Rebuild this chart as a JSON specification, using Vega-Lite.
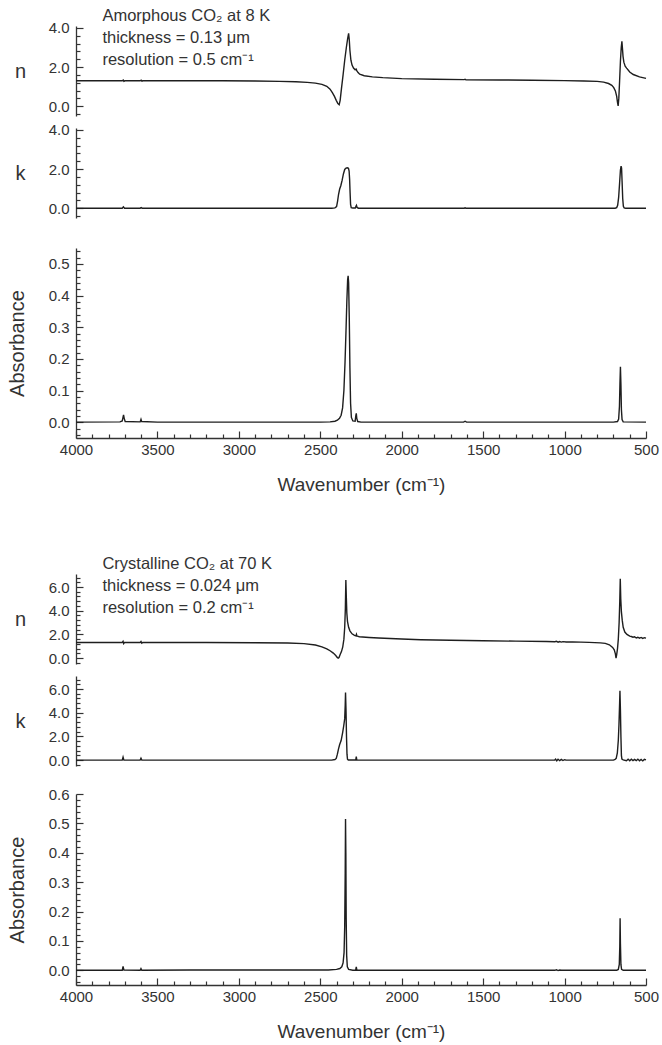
{
  "$schema": "https://vega.github.io/schema/vega-lite/v6.json",
  "padding": {"left": 7, "top": 8, "right": 8, "bottom": 4},
  "background": "white",
  "config": {
    "view": {"stroke": null},
    "font": "Liberation Sans",
    "axis": {"grid": false, "domainColor": "#333", "domainWidth": 1.3, "tickColor": "#333", "tickWidth": 1.2, "labelColor": "#333", "labelFontSize": 15, "labelFont": "Liberation Sans", "titleFont": "Liberation Sans", "titleFontWeight": "normal", "titleColor": "#333", "titleFontSize": 20, "labelOverlap": false, "labelFlush": false}
  },
  "datasets": {
    "amN": [
      {"w":4000,"v":1.30},{"w":3900,"v":1.30},{"w":3800,"v":1.30},{"w":3716,"v":1.30},{"w":3710,"v":1.34},{"w":3706,"v":1.27},{"w":3700,"v":1.30},{"w":3606,"v":1.30},{"w":3600,"v":1.33},{"w":3595,"v":1.28},{"w":3590,"v":1.30},{"w":3400,"v":1.30},{"w":3100,"v":1.30},{"w":2900,"v":1.29},{"w":2750,"v":1.27},{"w":2650,"v":1.25},{"w":2580,"v":1.22},{"w":2530,"v":1.18},{"w":2490,"v":1.12},{"w":2460,"v":1.02},{"w":2440,"v":0.87},{"w":2425,"v":0.68},{"w":2413,"v":0.50},{"w":2402,"v":0.30},{"w":2392,"v":0.14},{"w":2384,"v":0.08},{"w":2378,"v":0.30},{"w":2370,"v":0.90},{"w":2360,"v":1.60},{"w":2350,"v":2.35},{"w":2340,"v":3.00},{"w":2332,"v":3.45},{"w":2326,"v":3.72},{"w":2322,"v":3.40},{"w":2318,"v":2.85},{"w":2312,"v":2.35},{"w":2305,"v":2.10},{"w":2296,"v":1.95},{"w":2286,"v":1.86},{"w":2280,"v":1.90},{"w":2276,"v":1.82},{"w":2268,"v":1.72},{"w":2258,"v":1.64},{"w":2230,"v":1.56},{"w":2180,"v":1.50},{"w":2116,"v":1.46},{"w":2000,"v":1.41},{"w":1800,"v":1.38},{"w":1616,"v":1.36},{"w":1611,"v":1.38},{"w":1606,"v":1.35},{"w":1400,"v":1.34},{"w":1200,"v":1.33},{"w":1000,"v":1.31},{"w":880,"v":1.29},{"w":800,"v":1.27},{"w":760,"v":1.23},{"w":730,"v":1.16},{"w":710,"v":1.07},{"w":698,"v":0.95},{"w":688,"v":0.78},{"w":680,"v":0.50},{"w":675,"v":0.20},{"w":671,"v":0.02},{"w":667,"v":0.40},{"w":662,"v":1.30},{"w":657,"v":2.30},{"w":652,"v":3.00},{"w":648,"v":3.32},{"w":645,"v":3.00},{"w":641,"v":2.55},{"w":636,"v":2.25},{"w":628,"v":2.05},{"w":619,"v":1.95},{"w":600,"v":1.75},{"w":578,"v":1.62},{"w":540,"v":1.50},{"w":500,"v":1.42}
    ],
    "amK": [
      {"w":4000,"v":0},{"w":3716,"v":0},{"w":3709,"v":0.07},{"w":3702,"v":0},{"w":3606,"v":0},{"w":3600,"v":0.03},{"w":3594,"v":0},{"w":2430,"v":0},{"w":2410,"v":0.02},{"w":2400,"v":0.08},{"w":2394,"v":0.35},{"w":2388,"v":0.70},{"w":2381,"v":0.98},{"w":2374,"v":1.15},{"w":2366,"v":1.42},{"w":2358,"v":1.75},{"w":2350,"v":1.98},{"w":2342,"v":2.05},{"w":2334,"v":2.07},{"w":2327,"v":2.04},{"w":2323,"v":1.90},{"w":2320,"v":1.50},{"w":2317,"v":0.80},{"w":2314,"v":0.20},{"w":2310,"v":0.03},{"w":2300,"v":0.01},{"w":2285,"v":0.01},{"w":2281,"v":0.10},{"w":2278,"v":0.15},{"w":2274,"v":0.04},{"w":2266,"v":0},{"w":1616,"v":0},{"w":1611,"v":0.02},{"w":1606,"v":0},{"w":690,"v":0},{"w":680,"v":0.03},{"w":674,"v":0.15},{"w":668,"v":0.55},{"w":662,"v":1.30},{"w":657,"v":1.95},{"w":653,"v":2.15},{"w":650,"v":2.05},{"w":647,"v":1.40},{"w":643,"v":0.50},{"w":639,"v":0.10},{"w":634,"v":0.02},{"w":625,"v":0},{"w":500,"v":0}
    ],
    "amA": [
      {"w":4000,"v":0},{"w":3730,"v":0.001},{"w":3716,"v":0.004},{"w":3711,"v":0.016},{"w":3708,"v":0.023},{"w":3704,"v":0.012},{"w":3698,"v":0.002},{"w":3606,"v":0.001},{"w":3601,"v":0.009},{"w":3597,"v":0.002},{"w":3500,"v":0},{"w":2500,"v":0},{"w":2440,"v":0.001},{"w":2410,"v":0.003},{"w":2395,"v":0.006},{"w":2382,"v":0.012},{"w":2372,"v":0.022},{"w":2363,"v":0.045},{"w":2355,"v":0.10},{"w":2348,"v":0.19},{"w":2342,"v":0.29},{"w":2337,"v":0.38},{"w":2332,"v":0.45},{"w":2329,"v":0.462},{"w":2326,"v":0.44},{"w":2322,"v":0.33},{"w":2318,"v":0.17},{"w":2314,"v":0.06},{"w":2309,"v":0.015},{"w":2300,"v":0.004},{"w":2286,"v":0.003},{"w":2282,"v":0.02},{"w":2279,"v":0.028},{"w":2276,"v":0.012},{"w":2270,"v":0.002},{"w":2250,"v":0},{"w":1620,"v":0},{"w":1611,"v":0.003},{"w":1602,"v":0},{"w":700,"v":0},{"w":675,"v":0.002},{"w":668,"v":0.01},{"w":663,"v":0.05},{"w":660,"v":0.12},{"w":657,"v":0.175},{"w":654,"v":0.12},{"w":651,"v":0.04},{"w":647,"v":0.008},{"w":640,"v":0.001},{"w":500,"v":0}
    ],
    "crN": [
      {"w":4000,"v":1.32},{"w":3800,"v":1.32},{"w":3716,"v":1.32},{"w":3711,"v":1.42},{"w":3707,"v":1.22},{"w":3702,"v":1.32},{"w":3606,"v":1.32},{"w":3601,"v":1.40},{"w":3596,"v":1.26},{"w":3590,"v":1.32},{"w":3200,"v":1.31},{"w":2900,"v":1.30},{"w":2700,"v":1.27},{"w":2600,"v":1.22},{"w":2530,"v":1.10},{"w":2490,"v":0.95},{"w":2460,"v":0.78},{"w":2440,"v":0.62},{"w":2420,"v":0.42},{"w":2405,"v":0.22},{"w":2396,"v":0.06},{"w":2390,"v":0.00},{"w":2385,"v":0.05},{"w":2378,"v":0.30},{"w":2370,"v":0.55},{"w":2362,"v":0.95},{"w":2355,"v":1.60},{"w":2350,"v":2.60},{"w":2346,"v":4.20},{"w":2343,"v":6.60},{"w":2340,"v":5.10},{"w":2337,"v":3.80},{"w":2333,"v":3.10},{"w":2326,"v":2.60},{"w":2318,"v":2.30},{"w":2305,"v":2.05},{"w":2290,"v":1.92},{"w":2281,"v":1.88},{"w":2278,"v":2.00},{"w":2275,"v":1.86},{"w":2260,"v":1.80},{"w":2200,"v":1.74},{"w":2142,"v":1.69},{"w":2000,"v":1.61},{"w":1883,"v":1.55},{"w":1700,"v":1.50},{"w":1500,"v":1.46},{"w":1300,"v":1.43},{"w":1111,"v":1.40},{"w":1060,"v":1.38},{"w":1050,"v":1.42},{"w":1040,"v":1.34},{"w":1030,"v":1.40},{"w":1020,"v":1.35},{"w":1010,"v":1.39},{"w":990,"v":1.36},{"w":950,"v":1.37},{"w":850,"v":1.33},{"w":780,"v":1.28},{"w":750,"v":1.24},{"w":725,"v":1.12},{"w":705,"v":0.90},{"w":695,"v":0.70},{"w":688,"v":0.35},{"w":684,"v":0.00},{"w":680,"v":0.30},{"w":675,"v":0.80},{"w":670,"v":1.60},{"w":665,"v":3.00},{"w":661,"v":4.80},{"w":658,"v":6.70},{"w":655,"v":5.00},{"w":651,"v":3.90},{"w":646,"v":3.20},{"w":640,"v":2.60},{"w":630,"v":2.20},{"w":617,"v":2.00},{"w":600,"v":1.85},{"w":590,"v":1.82},{"w":580,"v":1.76},{"w":570,"v":1.80},{"w":560,"v":1.70},{"w":550,"v":1.76},{"w":540,"v":1.68},{"w":530,"v":1.74},{"w":520,"v":1.66},{"w":510,"v":1.72},{"w":500,"v":1.68}
    ],
    "crK": [
      {"w":4000,"v":0},{"w":3716,"v":0},{"w":3711,"v":0.25},{"w":3706,"v":0},{"w":3606,"v":0},{"w":3601,"v":0.15},{"w":3596,"v":0},{"w":2430,"v":0},{"w":2410,"v":0.05},{"w":2402,"v":0.14},{"w":2395,"v":0.50},{"w":2388,"v":0.95},{"w":2381,"v":1.31},{"w":2372,"v":1.65},{"w":2363,"v":2.30},{"w":2356,"v":2.90},{"w":2350,"v":3.50},{"w":2347,"v":4.60},{"w":2345,"v":5.70},{"w":2342,"v":4.20},{"w":2339,"v":2.00},{"w":2336,"v":0.50},{"w":2333,"v":0.08},{"w":2328,"v":0.01},{"w":2282,"v":0.01},{"w":2279,"v":0.30},{"w":2276,"v":0.02},{"w":2270,"v":0},{"w":1060,"v":0},{"w":1055,"v":0.08},{"w":1048,"v":-0.06},{"w":1040,"v":0.07},{"w":1030,"v":-0.05},{"w":1020,"v":0.06},{"w":1010,"v":-0.04},{"w":1000,"v":0.03},{"w":990,"v":0},{"w":700,"v":0},{"w":690,"v":0.05},{"w":683,"v":0.15},{"w":676,"v":0.60},{"w":670,"v":1.67},{"w":666,"v":3.00},{"w":662,"v":4.80},{"w":660,"v":5.85},{"w":657,"v":4.20},{"w":654,"v":2.00},{"w":651,"v":0.40},{"w":648,"v":0.08},{"w":640,"v":0.02},{"w":620,"v":-0.05},{"w":610,"v":0.08},{"w":600,"v":-0.06},{"w":590,"v":0.07},{"w":580,"v":-0.04},{"w":570,"v":0.06},{"w":560,"v":-0.05},{"w":550,"v":0.08},{"w":540,"v":-0.06},{"w":530,"v":0.05},{"w":520,"v":-0.07},{"w":510,"v":0.06},{"w":500,"v":0.02}
    ],
    "crA": [
      {"w":4000,"v":0},{"w":3716,"v":0},{"w":3711,"v":0.013},{"w":3706,"v":0.001},{"w":3606,"v":0},{"w":3601,"v":0.006},{"w":3596,"v":0},{"w":3300,"v":0.001},{"w":2800,"v":0.001},{"w":2450,"v":0.001},{"w":2400,"v":0.003},{"w":2380,"v":0.006},{"w":2368,"v":0.012},{"w":2360,"v":0.025},{"w":2354,"v":0.06},{"w":2350,"v":0.15},{"w":2347,"v":0.33},{"w":2345,"v":0.515},{"w":2343,"v":0.40},{"w":2341,"v":0.18},{"w":2338,"v":0.05},{"w":2334,"v":0.012},{"w":2326,"v":0.003},{"w":2300,"v":0},{"w":2283,"v":0},{"w":2279,"v":0.012},{"w":2275,"v":0},{"w":1060,"v":0},{"w":1050,"v":0.002},{"w":1040,"v":-0.001},{"w":1030,"v":0.001},{"w":1020,"v":0},{"w":680,"v":0},{"w":670,"v":0.003},{"w":664,"v":0.02},{"w":661,"v":0.08},{"w":659,"v":0.177},{"w":657,"v":0.09},{"w":654,"v":0.02},{"w":650,"v":0.003},{"w":640,"v":0},{"w":500,"v":0}
    ]
  },
  "vconcat": [
    {
      "width": 570, "height": 90,
      "resolve": {"axis": {"x": "independent", "y": "independent"}},
      "layer": [
        {
          "data": {"name": "amN"},
          "mark": {"type": "line", "color": "#1e1e1e", "strokeWidth": 1.4},
          "encoding": {
            "x": {"field": "w", "type": "quantitative", "scale": {"domain": [500, 4000], "reverse": true, "nice": false, "zero": false}, "axis": null},
            "y": {"field": "v", "type": "quantitative", "scale": {"domain": [-0.5, 4.1], "nice": false, "zero": false},
              "axis": {"orient": "left", "values": [-0.4,0,0.4,0.8,1.2,1.6,2,2.4,2.8,3.2,3.6,4],
                "labelExpr": "abs(datum.value/2 - round(datum.value/2)) < 0.001 ? format(datum.value, '.1f') : ''",
                "tickSize": {"condition": {"test": "abs(datum.value/2 - round(datum.value/2)) < 0.001", "value": -7}, "value": -4},
                "labelPadding": 14, "title": "n", "titleAngle": 0, "titleX": -56, "titleBaseline": "middle", "titleAlign": "center"}}
          }
        },
        {
          "data": {"values": [{}]},
          "mark": {"type": "text", "text": ["Amorphous CO₂ at 8 K", "thickness = 0.13 μm", "resolution = 0.5 cm⁻¹"], "align": "left", "baseline": "top", "lineHeight": 22, "fontSize": 16.5, "font": "Liberation Sans", "fill": "#333"},
          "encoding": {
            "x": {"datum": 3838, "type": "quantitative", "axis": null},
            "y": {"datum": 5.02, "type": "quantitative", "axis": null}
          }
        }
      ]
    },
    {
      "data": {"name": "amK"},
      "width": 570, "height": 90,
      "mark": {"type": "line", "color": "#1e1e1e", "strokeWidth": 1.4},
      "encoding": {
        "x": {"field": "w", "type": "quantitative", "scale": {"domain": [500, 4000], "reverse": true, "nice": false, "zero": false}, "axis": null},
        "y": {"field": "v", "type": "quantitative", "scale": {"domain": [-0.5, 4.1], "nice": false, "zero": false},
          "axis": {"values": [-0.4,0,0.4,0.8,1.2,1.6,2,2.4,2.8,3.2,3.6,4],
            "labelExpr": "abs(datum.value/2 - round(datum.value/2)) < 0.001 ? format(datum.value, '.1f') : ''",
            "tickSize": {"condition": {"test": "abs(datum.value/2 - round(datum.value/2)) < 0.001", "value": -7}, "value": -4},
            "labelPadding": 14, "title": "k", "titleAngle": 0, "titleX": -56, "titleBaseline": "middle", "titleAlign": "center"}}
      }
    },
    {"width": 570, "height": 6, "data": {"values": []}, "mark": "rule", "encoding": {}},
    {
      "data": {"name": "amA"},
      "width": 570, "height": 190,
      "mark": {"type": "line", "color": "#1e1e1e", "strokeWidth": 1.4},
      "encoding": {
        "x": {"field": "w", "type": "quantitative", "scale": {"domain": [500, 4000], "reverse": true, "nice": false, "zero": false},
          "axis": {"values": [500,600,700,800,900,1000,1100,1200,1300,1400,1500,1600,1700,1800,1900,2000,2100,2200,2300,2400,2500,2600,2700,2800,2900,3000,3100,3200,3300,3400,3500,3600,3700,3800,3900,4000],
            "labelExpr": "datum.value % 500 === 0 ? format(datum.value, 'd') : ''",
            "tickSize": {"condition": {"test": "datum.value % 500 === 0", "value": -7}, "value": -4},
            "labelPadding": 11, "labelBaseline": "top", "title": "Wavenumber (cm⁻¹)", "titleY": 46, "titleBaseline": "middle", "titleFontSize": 19}},
        "y": {"field": "v", "type": "quantitative", "scale": {"domain": [-0.05, 0.55], "nice": false, "zero": false},
          "axis": {"values": [-0.04,-0.02,0,0.02,0.04,0.06,0.08,0.1,0.12,0.14,0.16,0.18,0.2,0.22,0.24,0.26,0.28,0.3,0.32,0.34,0.36,0.38,0.4,0.42,0.44,0.46,0.48,0.5,0.52,0.54],
            "labelExpr": "abs(datum.value*10 - round(datum.value*10)) < 0.001 ? format(datum.value, '.1f') : ''",
            "tickSize": {"condition": {"test": "abs(datum.value*10 - round(datum.value*10)) < 0.001", "value": -7}, "value": -4},
            "labelPadding": 14, "title": "Absorbance", "titleAngle": -90, "titleX": -59, "titleBaseline": "middle", "titleAlign": "center"}}
      }
    },
    {"width": 570, "height": 112, "data": {"values": []}, "mark": "rule", "encoding": {}},
    {
      "width": 570, "height": 90,
      "resolve": {"axis": {"x": "independent", "y": "independent"}},
      "layer": [
        {
          "data": {"name": "crN"},
          "mark": {"type": "line", "color": "#1e1e1e", "strokeWidth": 1.4},
          "encoding": {
            "x": {"field": "w", "type": "quantitative", "scale": {"domain": [500, 4000], "reverse": true, "nice": false, "zero": false}, "axis": null},
            "y": {"field": "v", "type": "quantitative", "scale": {"domain": [-0.5, 7.1], "nice": false, "zero": false},
              "axis": {"orient": "left", "values": [-0.4,0,0.4,0.8,1.2,1.6,2,2.4,2.8,3.2,3.6,4,4.4,4.8,5.2,5.6,6,6.4,6.8],
                "labelExpr": "abs(datum.value/2 - round(datum.value/2)) < 0.001 ? format(datum.value, '.1f') : ''",
                "tickSize": {"condition": {"test": "abs(datum.value/2 - round(datum.value/2)) < 0.001", "value": -7}, "value": -4},
                "labelPadding": 14, "title": "n", "titleAngle": 0, "titleX": -56, "titleBaseline": "middle", "titleAlign": "center"}}
          }
        },
        {
          "data": {"values": [{}]},
          "mark": {"type": "text", "text": ["Crystalline CO₂ at 70 K", "thickness = 0.024 μm", "resolution = 0.2 cm⁻¹"], "align": "left", "baseline": "top", "lineHeight": 22, "fontSize": 16.5, "font": "Liberation Sans", "fill": "#333"},
          "encoding": {
            "x": {"datum": 3838, "type": "quantitative", "axis": null},
            "y": {"datum": 8.62, "type": "quantitative", "axis": null}
          }
        }
      ]
    },
    {
      "data": {"name": "crK"},
      "width": 570, "height": 90,
      "mark": {"type": "line", "color": "#1e1e1e", "strokeWidth": 1.4},
      "encoding": {
        "x": {"field": "w", "type": "quantitative", "scale": {"domain": [500, 4000], "reverse": true, "nice": false, "zero": false}, "axis": null},
        "y": {"field": "v", "type": "quantitative", "scale": {"domain": [-0.5, 7.1], "nice": false, "zero": false},
          "axis": {"values": [-0.4,0,0.4,0.8,1.2,1.6,2,2.4,2.8,3.2,3.6,4,4.4,4.8,5.2,5.6,6,6.4,6.8],
            "labelExpr": "abs(datum.value/2 - round(datum.value/2)) < 0.001 ? format(datum.value, '.1f') : ''",
            "tickSize": {"condition": {"test": "abs(datum.value/2 - round(datum.value/2)) < 0.001", "value": -7}, "value": -4},
            "labelPadding": 14, "title": "k", "titleAngle": 0, "titleX": -56, "titleBaseline": "middle", "titleAlign": "center"}}
      }
    },
    {"width": 570, "height": 4, "data": {"values": []}, "mark": "rule", "encoding": {}},
    {
      "data": {"name": "crA"},
      "width": 570, "height": 191,
      "mark": {"type": "line", "color": "#1e1e1e", "strokeWidth": 1.4},
      "encoding": {
        "x": {"field": "w", "type": "quantitative", "scale": {"domain": [500, 4000], "reverse": true, "nice": false, "zero": false},
          "axis": {"values": [500,600,700,800,900,1000,1100,1200,1300,1400,1500,1600,1700,1800,1900,2000,2100,2200,2300,2400,2500,2600,2700,2800,2900,3000,3100,3200,3300,3400,3500,3600,3700,3800,3900,4000],
            "labelExpr": "datum.value % 500 === 0 ? format(datum.value, 'd') : ''",
            "tickSize": {"condition": {"test": "datum.value % 500 === 0", "value": -7}, "value": -4},
            "labelPadding": 11, "labelBaseline": "top", "title": "Wavenumber (cm⁻¹)", "titleY": 46, "titleBaseline": "middle", "titleFontSize": 19}},
        "y": {"field": "v", "type": "quantitative", "scale": {"domain": [-0.05, 0.6], "nice": false, "zero": false},
          "axis": {"values": [-0.04,-0.02,0,0.02,0.04,0.06,0.08,0.1,0.12,0.14,0.16,0.18,0.2,0.22,0.24,0.26,0.28,0.3,0.32,0.34,0.36,0.38,0.4,0.42,0.44,0.46,0.48,0.5,0.52,0.54,0.56,0.58,0.6],
            "labelExpr": "abs(datum.value*10 - round(datum.value*10)) < 0.001 ? format(datum.value, '.1f') : ''",
            "tickSize": {"condition": {"test": "abs(datum.value*10 - round(datum.value*10)) < 0.001", "value": -7}, "value": -4},
            "labelPadding": 14, "title": "Absorbance", "titleAngle": -90, "titleX": -59, "titleBaseline": "middle", "titleAlign": "center"}}
      }
    }
  ],
  "spacing": 12,
  "bounds": "flush"
}
